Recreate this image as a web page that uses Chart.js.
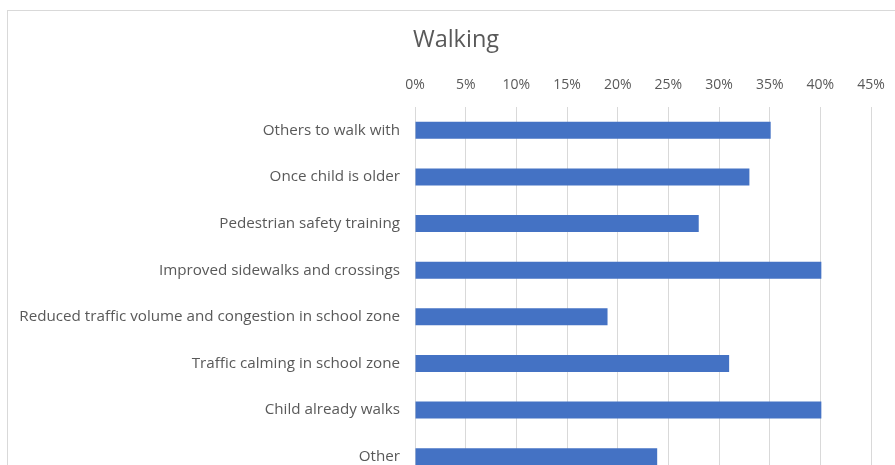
<!DOCTYPE html>
<html>
<head>
<meta charset="utf-8">
<script src="https://cdn.jsdelivr.net/npm/chart.js@4.4.1/dist/chart.umd.min.js"></script>
<style>
  html, body { margin: 0; padding: 0; background: #ffffff; overflow: hidden; }
  #wrap { position: relative; width: 895px; height: 465px; overflow: hidden; background: #ffffff; }
  #frame { position: absolute; left: 7px; top: 10px; width: 1000px; height: 600px; border: 1px solid #d9d9d9; box-sizing: border-box; }
  #holder { position: absolute; left: 0; top: 0; width: 912px; height: 480px; }
</style>
</head>
<body>
<div id="wrap">
  <div id="frame"></div>
  <div id="holder"><canvas id="c"></canvas></div>
</div>
<script>
const chartTitle = "Walking";
const categories = [
  "Others to walk with",
  "Once child is older",
  "Pedestrian safety training",
  "Improved sidewalks and crossings",
  "Reduced traffic volume and congestion in school zone",
  "Traffic calming in school zone",
  "Child already walks",
  "Other"
];
const values = [35.1, 33.0, 28.0, 40.1, 19.0, 31.0, 40.1, 23.9];
const tickMin = 0;
const tickMax = 45;
const tickStep = 5;

const textColor = "#595959";
const FONT = "'Open Sans', 'Segoe UI', sans-serif";

new Chart(document.getElementById("c"), {
  type: "bar",
  data: {
    labels: categories,
    datasets: [{
      data: values,
      backgroundColor: "#4472C4",
      borderWidth: 0,
      categoryPercentage: 1.0,
      barPercentage: 0.365
    }]
  },
  options: {
    indexAxis: "y",
    responsive: true,
    maintainAspectRatio: false,
    animation: false,
    devicePixelRatio: 1,
    layout: { padding: { left: 0, right: 0, top: 0, bottom: 0 } },
    plugins: {
      legend: { display: false },
      tooltip: { enabled: false },
      title: {
        display: true,
        text: chartTitle,
        color: textColor,
        font: { family: FONT, size: 23.5, weight: "normal" },
        padding: { top: 26, bottom: 0 }
      }
    },
    scales: {
      x: {
        position: "top",
        min: tickMin,
        max: tickMax,
        ticks: {
          stepSize: tickStep,
          color: textColor,
          font: { family: FONT, size: 14 },
          padding: 14,
          maxRotation: 0,
          callback: v => v + "%"
        },
        grid: { color: "#d9d9d9", lineWidth: 1, drawTicks: false },
        border: { display: false },
        afterFit: s => { s.height = 52.8; s.paddingRight = 41; }
      },
      y: {
        ticks: {
          color: textColor,
          font: { family: FONT, size: 15.2 },
          padding: 15
        },
        grid: { display: false, drawTicks: false },
        border: { display: false },
        afterFit: s => { s.width = 415; s.paddingTop = 0; s.paddingBottom = 0; }
      }
    }
  }
});
</script>
</body>
</html>
